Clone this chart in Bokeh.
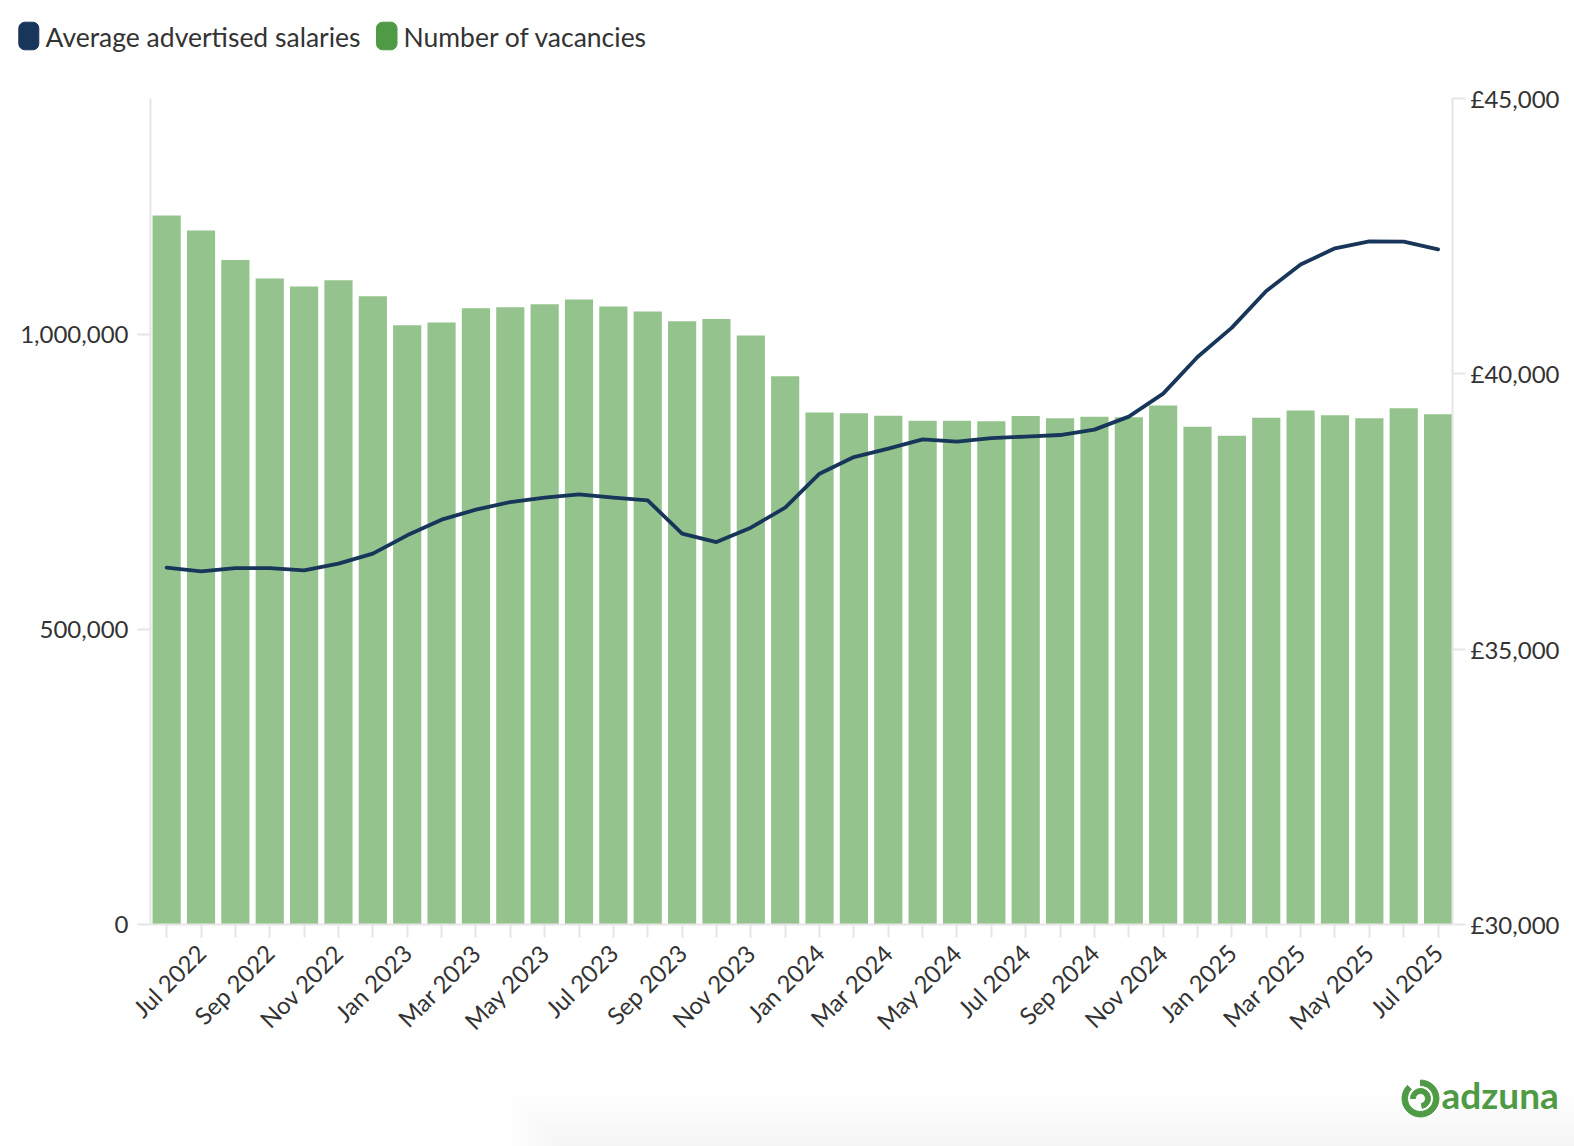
import math
from bokeh.plotting import figure
from bokeh.models import Range1d, LinearAxis, FixedTicker, ColumnDataSource
from bokeh.layouts import column
from bokeh.embed import file_html
from bokeh.resources import INLINE
from bokeh.core.properties import value

# ---------------- data ----------------
months = ["Jun 2022", "Jul 2022", "Aug 2022", "Sep 2022", "Oct 2022", "Nov 2022", "Dec 2022",
          "Jan 2023", "Feb 2023", "Mar 2023", "Apr 2023", "May 2023", "Jun 2023", "Jul 2023",
          "Aug 2023", "Sep 2023", "Oct 2023", "Nov 2023", "Dec 2023",
          "Jan 2024", "Feb 2024", "Mar 2024", "Apr 2024", "May 2024", "Jun 2024", "Jul 2024",
          "Aug 2024", "Sep 2024", "Oct 2024", "Nov 2024", "Dec 2024",
          "Jan 2025", "Feb 2025", "Mar 2025", "Apr 2025", "May 2025", "Jun 2025", "Jul 2025"]

vacancies = [1201600, 1176200, 1126300, 1094800, 1081200, 1091900, 1064800,
             1015600, 1020200, 1044400, 1046100, 1051200, 1059200, 1047300,
             1038800, 1022400, 1026300, 998100, 929100,
             867600, 866400, 862500, 854000, 854000, 852800, 861800,
             857900, 860800, 859600, 879500, 843800,
             828600, 859100, 871000, 863000, 857900, 874900, 864700]

salaries = [36480, 36413, 36473, 36473, 36431, 36553, 36734,
            37067, 37352, 37533, 37672, 37751, 37811, 37751,
            37702, 37097, 36945, 37206, 37570,
            38187, 38489, 38641, 38811, 38769, 38834, 38860,
            38889, 38987, 39223, 39641, 40306,
            40840, 41505, 41984, 42280, 42407, 42402, 42262]

series_names = ["Average advertised salaries", "Number of vacancies"]
left_ticks = [0, 500000, 1000000]
left_tick_labels = ["0", "500,000", "1,000,000"]
right_ticks = [30000, 35000, 40000, 45000]
right_tick_labels = ["£30,000", "£35,000", "£40,000", "£45,000"]
brand = "adzuna"

# ---------------- style ----------------
FONT = "Lato"
NAVY = "#17365a"
BAR = "#94c38d"
GREEN = "#4f9a45"
TXT = "#333333"
AXIS = "#e6e6e6"
W = 1566
WF = 1574


def bare(fig):
    fig.axis.visible = False
    fig.grid.visible = False
    fig.outline_line_color = None
    fig.frame_align = False
    return fig


# ---------------- legend strip ----------------
LH = 78
leg = bare(figure(width=W, height=LH, x_range=Range1d(0, W), y_range=Range1d(LH, 0),
                  output_backend="svg", toolbar_location=None, min_border=0))
leg.quad(left=[18.3, 376], right=[38.3, 396.5], top=[21.7, 21.7], bottom=[49.3, 49.3],
         color=[NAVY, GREEN], border_radius=6)
leg.text(x=[45, 403], y=[36, 36], text=series_names, text_baseline="middle",
         text_font=value(FONT), text_font_size="26.5px", text_color=TXT)

# ---------------- main chart ----------------
idx = list(range(len(months)))
src = ColumnDataSource(dict(x=idx, vac=vacancies, sal=salaries))

p = figure(width=W, height=972, x_range=Range1d(-0.47, 37.42), y_range=Range1d(0, 1400000),
           output_backend="svg", toolbar_location=None,
           min_border_left=150, min_border_right=114, min_border_top=20, min_border_bottom=126)
p.frame_align = False
p.extra_y_ranges = {"salary": Range1d(30000, 45000)}
p.grid.visible = False
p.outline_line_color = None

p.vbar(x="x", top="vac", width=0.82, source=src, fill_color=BAR, line_color=None)
p.line(x="x", y="sal", source=src, y_range_name="salary", line_color=NAVY,
       line_width=3.8, line_join="round", line_cap="round")

xa = p.xaxis[0]
xa.ticker = FixedTicker(ticks=idx)
xa.major_label_overrides = {i: (m if i % 2 == 1 else "") for i, m in enumerate(months)}
xa.major_label_orientation = math.pi / 4

ya = p.yaxis[0]
ya.ticker = FixedTicker(ticks=left_ticks)
ya.major_label_overrides = dict(zip(left_ticks, left_tick_labels))

ra = LinearAxis(y_range_name="salary", ticker=FixedTicker(ticks=right_ticks))
ra.major_label_overrides = dict(zip(right_ticks, right_tick_labels))
p.add_layout(ra, "right")

for ax in (xa, ya, ra):
    ax.axis_line_color = AXIS
    ax.axis_line_width = 2
    ax.major_tick_line_color = AXIS
    ax.major_tick_line_width = 2
    ax.major_tick_in = 0
    ax.major_tick_out = 13
    ax.minor_tick_line_color = None
    ax.major_label_text_font = FONT
    ax.major_label_text_font_size = "24px"
    ax.major_label_text_color = TXT
ya.major_label_standoff = 9
ra.major_label_standoff = 5
xa.major_label_standoff = 11

# ---------------- footer (brand) ----------------
FH = 96
foot = bare(figure(width=WF, height=FH, x_range=Range1d(0, WF), y_range=Range1d(0, FH),
                   output_backend="svg", toolbar_location=None, min_border=0))
# soft page shadow at the bottom
for k in range(10):
    foot.quad(left=[560 - 6 * k], right=[WF], bottom=[0], top=[4 + 5.5 * k],
              fill_color="#d8d8d8", fill_alpha=0.035, line_color=None)
foot.annular_wedge(x=[1420], y=[48], inner_radius=13, outer_radius=18.5,
                   start_angle=math.radians(135), end_angle=math.radians(450),
                   color=GREEN)
foot.annular_wedge(x=[1420], y=[48], inner_radius=5, outer_radius=10,
                   start_angle=math.radians(-80), end_angle=math.radians(180),
                   color=GREEN)
foot.text(x=[1441], y=[52], text=[brand], text_baseline="middle",
          text_font=value(FONT), text_font_style="bold", text_font_size="37px",
          text_color=GREEN)

layout = column(leg, p, foot, spacing=0)
open("out.html", "w").write(file_html(layout, INLINE))
